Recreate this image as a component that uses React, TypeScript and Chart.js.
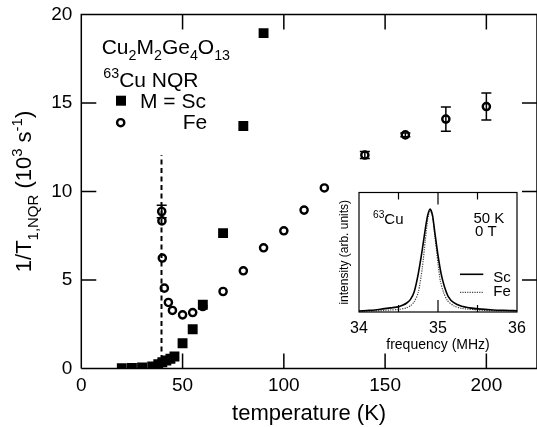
import React, { useEffect, useRef } from 'react';
import { Chart, registerables } from 'chart.js';
Chart.register(...registerables);

const FONT = '"Liberation Sans", Arial, Helvetica, sans-serif';

// ---------- main chart data ----------
const xTicks = [0, 50, 100, 150, 200];
const yTicks = [0, 5, 10, 15, 20];

const scTemp = [20, 25, 30, 35, 38, 40, 42, 44, 46, 50, 55, 60, 70, 80, 90];
const scRate = [0.02, 0.03, 0.06, 0.12, 0.25, 0.35, 0.45, 0.55, 0.68, 1.43, 2.22, 3.6, 7.65, 13.7, 18.95];

const feTemp = [39.7, 39.8, 40, 41, 43, 45, 50, 55, 60, 70, 80, 90, 100, 110, 120, 140, 160, 180, 200];
const feRate = [8.87, 8.34, 6.24, 4.54, 3.73, 3.28, 3.03, 3.16, 3.5, 4.35, 5.52, 6.82, 7.78, 8.95, 10.2, 12.06, 13.2, 14.09, 14.8];
const feErr = [0.35, 0, 0, 0, 0, 0, 0, 0, 0, 0, 0, 0, 0, 0, 0, 0.2, 0.1, 0.69, 0.76];

const tcTemp = [39.6, 39.6];
const tcRate = [0, 12.05];

// ---------- inset data ----------
const freqTicks = [34, 35, 36];
const freqMinor = [34.5, 35, 35.5];
const scFreq = [34.0, 34.1, 34.2, 34.3, 34.4, 34.5, 34.55, 34.6, 34.65, 34.7, 34.75, 34.8, 34.84, 34.87, 34.9, 34.93, 34.96, 35.0, 35.04, 35.08, 35.13, 35.2, 35.3, 35.4, 35.5, 35.7, 35.9, 36.0];
const scInt = [0.01, 0.015, 0.02, 0.03, 0.04, 0.05, 0.065, 0.085, 0.12, 0.2, 0.37, 0.6, 0.81, 0.94, 1.0, 0.94, 0.77, 0.55, 0.37, 0.25, 0.15, 0.09, 0.055, 0.04, 0.03, 0.02, 0.015, 0.012];
const feFreq = [34.0, 34.2, 34.4, 34.5, 34.6, 34.65, 34.7, 34.75, 34.8, 34.84, 34.87, 34.9, 34.93, 34.96, 35.0, 35.03, 35.07, 35.12, 35.2, 35.3, 35.5, 35.7, 36.0];
const feInt = [0.005, 0.01, 0.02, 0.025, 0.04, 0.06, 0.1, 0.19, 0.42, 0.7, 0.9, 0.99, 0.93, 0.74, 0.47, 0.3, 0.19, 0.11, 0.06, 0.035, 0.02, 0.012, 0.01];

type Seg = { t: string; k?: 'sub' | 'sup' };

function drawRich(ctx: CanvasRenderingContext2D, segs: Seg[], x: number, y: number, size: number, align: 'left' | 'center' = 'left') {
  const sm = size * 0.68;
  let w = 0;
  for (const s of segs) {
    ctx.font = `${s.k ? sm : size}px ${FONT}`;
    w += ctx.measureText(s.t).width;
  }
  let cx = align === 'center' ? x - w / 2 : x;
  ctx.textAlign = 'left';
  ctx.textBaseline = 'alphabetic';
  for (const s of segs) {
    ctx.font = `${s.k ? sm : size}px ${FONT}`;
    const dy = s.k === 'sub' ? size * 0.3 : s.k === 'sup' ? -size * 0.42 : 0;
    ctx.fillText(s.t, cx, y + dy);
    cx += ctx.measureText(s.t).width;
  }
}

const zeroPad = (s: any) => { s.paddingLeft = 0; s.paddingRight = 0; s.paddingTop = 0; s.paddingBottom = 0; };

const mainPlugin = {
  id: 'mainDecor',
  beforeDatasetsDraw(chart: any) {
    const ctx = chart.ctx as CanvasRenderingContext2D;
    const xs = chart.scales.x;
    const ys = chart.scales.y;
    ctx.save();
    ctx.strokeStyle = '#000';
    ctx.lineWidth = 1.5;
    feTemp.forEach((t, i) => {
      const e = feErr[i];
      if (!e) return;
      const px = xs.getPixelForValue(t);
      const y1 = ys.getPixelForValue(feRate[i] + e);
      const y2 = ys.getPixelForValue(feRate[i] - e);
      ctx.beginPath();
      ctx.moveTo(px, y1); ctx.lineTo(px, y2);
      ctx.moveTo(px - 5, y1); ctx.lineTo(px + 5, y1);
      ctx.moveTo(px - 5, y2); ctx.lineTo(px + 5, y2);
      ctx.stroke();
    });
    ctx.restore();
  },
  afterDraw(chart: any) {
    const ctx = chart.ctx as CanvasRenderingContext2D;
    const a = chart.chartArea;
    const xs = chart.scales.x;
    const ys = chart.scales.y;
    ctx.save();
    ctx.strokeStyle = '#000';
    ctx.lineWidth = 1.5;
    ctx.beginPath();
    ctx.moveTo(a.left, a.bottom); ctx.lineTo(a.right, a.bottom);
    ctx.moveTo(a.left, a.bottom); ctx.lineTo(a.left, a.top);
    ctx.lineTo(a.right, a.top);
    ctx.lineTo(a.right, a.bottom);
    const tl = 15;
    xTicks.slice(1).forEach(v => {
      const px = xs.getPixelForValue(v);
      ctx.moveTo(px, a.bottom); ctx.lineTo(px, a.bottom - tl);
      ctx.moveTo(px, a.top); ctx.lineTo(px, a.top + tl);
    });
    yTicks.slice(1, -1).forEach(v => {
      const py = ys.getPixelForValue(v);
      ctx.moveTo(a.left, py); ctx.lineTo(a.left + tl, py);
      ctx.moveTo(a.right, py); ctx.lineTo(a.right - tl, py);
    });
    ctx.stroke();

    ctx.fillStyle = '#000';
    // y title
    ctx.save();
    ctx.translate(31, (a.top + a.bottom) / 2);
    ctx.rotate(-Math.PI / 2);
    drawRich(ctx, [{ t: '1/T' }, { t: '1,NQR', k: 'sub' }, { t: ' (10' }, { t: '3', k: 'sup' }, { t: ' s' }, { t: '-1', k: 'sup' }, { t: ')' }], 0, 0, 22, 'center');
    ctx.restore();

    // annotations
    drawRich(ctx, [{ t: 'Cu' }, { t: '2', k: 'sub' }, { t: 'M' }, { t: '2', k: 'sub' }, { t: 'Ge' }, { t: '4', k: 'sub' }, { t: 'O' }, { t: '13', k: 'sub' }], 101.7, 54, 21);
    drawRich(ctx, [{ t: '63', k: 'sup' }, { t: 'Cu NQR' }], 103.3, 86.7, 21);
    // legend
    ctx.fillRect(116, 95.7, 10, 10);
    drawRich(ctx, [{ t: 'M = Sc' }], 140, 108.3, 21);
    ctx.beginPath();
    ctx.lineWidth = 2.4;
    ctx.arc(120.7, 122.7, 3.6, 0, Math.PI * 2);
    ctx.stroke();
    drawRich(ctx, [{ t: 'Fe' }], 182.7, 129.3, 21);
    ctx.restore();
  },
};

const insetPlugin = {
  id: 'insetDecor',
  beforeDraw(chart: any) {
    const ctx = chart.ctx as CanvasRenderingContext2D;
    const a = chart.chartArea;
    ctx.save();
    ctx.fillStyle = '#fff';
    ctx.fillRect(a.left, a.top, a.right - a.left, a.bottom - a.top);
    ctx.restore();
  },
  afterDraw(chart: any) {
    const ctx = chart.ctx as CanvasRenderingContext2D;
    const a = chart.chartArea;
    const xs = chart.scales.x;
    ctx.save();
    ctx.strokeStyle = '#000';
    ctx.lineWidth = 1.2;
    ctx.strokeRect(a.left, a.top, a.right - a.left, a.bottom - a.top);
    ctx.beginPath();
    freqMinor.forEach(v => {
      const px = xs.getPixelForValue(v);
      const len = v === 35 ? 12 : 7;
      ctx.moveTo(px, a.bottom); ctx.lineTo(px, a.bottom - len);
      ctx.moveTo(px, a.top); ctx.lineTo(px, a.top + len);
    });
    ctx.stroke();

    ctx.fillStyle = '#000';
    drawRich(ctx, [{ t: '63', k: 'sup' }, { t: 'Cu' }], 43, 39.3, 15);
    drawRich(ctx, [{ t: '50 K' }], 143.5, 38.3, 15);
    drawRich(ctx, [{ t: '0 T' }], 145, 50.7, 15);
    // legend
    ctx.lineWidth = 1.6;
    ctx.beginPath();
    ctx.moveTo(130, 89.3); ctx.lineTo(153.3, 89.3);
    ctx.stroke();
    ctx.lineWidth = 1.2;
    ctx.strokeStyle = '#444';
    ctx.setLineDash([1.2, 1.2]);
    ctx.beginPath();
    ctx.moveTo(130, 107.3); ctx.lineTo(153.3, 107.3);
    ctx.stroke();
    ctx.setLineDash([]);
    drawRich(ctx, [{ t: 'Sc' }], 163.3, 96.5, 15);
    drawRich(ctx, [{ t: 'Fe' }], 163.3, 110.5, 15);
    // y label
    ctx.save();
    ctx.translate(18, (a.top + a.bottom) / 2);
    ctx.rotate(-Math.PI / 2);
    drawRich(ctx, [{ t: 'intensity (arb. units)' }], 0, 0, 12, 'center');
    ctx.restore();
    ctx.restore();
  },
};

export default function App() {
  const mainRef = useRef<HTMLCanvasElement>(null);
  const insetRef = useRef<HTMLCanvasElement>(null);

  useEffect(() => {
    const main = new Chart(mainRef.current!, {
      type: 'scatter',
      data: {
        datasets: [
          {
            label: 'Fe',
            data: feTemp.map((t, i) => ({ x: t, y: feRate[i] })),
            pointStyle: 'circle',
            pointRadius: 3.6,
            borderWidth: 2.4,
            borderColor: '#000',
            backgroundColor: 'rgba(0,0,0,0)',
            showLine: false,
          },
          {
            label: 'Sc',
            data: scTemp.map((t, i) => ({ x: t, y: scRate[i] })),
            pointStyle: 'rect',
            pointRadius: 7,
            borderWidth: 0,
            borderColor: '#000',
            backgroundColor: '#000',
            showLine: false,
          },
          {
            label: 'Tc',
            data: tcTemp.map((t, i) => ({ x: t, y: tcRate[i] })),
            showLine: true,
            pointRadius: 0,
            borderColor: '#000',
            borderWidth: 2,
            borderDash: [5, 3.5],
          },
        ],
      },
      options: {
        responsive: false,
        animation: false,
        events: [],
        layout: { padding: { top: 14.5, right: 0, left: 0, bottom: 0 } },
        plugins: { legend: { display: false }, tooltip: { enabled: false } },
        scales: {
          x: {
            type: 'linear',
            min: 0,
            max: 225,
            afterBuildTicks: (s: any) => { s.ticks = xTicks.map(v => ({ value: v })); },
            afterFit: (s: any) => { s.height = 58.5; zeroPad(s); },
            grid: { display: false, drawTicks: false },
            border: { display: false },
            ticks: { font: { family: FONT, size: 19 }, color: '#000', padding: 6, maxRotation: 0, autoSkip: false },
            title: { display: true, text: 'temperature (K)', font: { family: FONT, size: 22 }, color: '#000', padding: { top: 0, bottom: 0 } },
          },
          y: {
            type: 'linear',
            min: 0,
            max: 20,
            afterBuildTicks: (s: any) => { s.ticks = yTicks.map(v => ({ value: v })); },
            afterFit: (s: any) => { s.width = 81.3; zeroPad(s); },
            grid: { display: false, drawTicks: false },
            border: { display: false },
            ticks: { font: { family: FONT, size: 19 }, color: '#000', padding: 9 },
          },
        },
      },
      plugins: [mainPlugin],
    } as any);

    const inset = new Chart(insetRef.current!, {
      type: 'scatter',
      data: {
        datasets: [
          {
            label: 'Sc',
            data: scFreq.map((f, i) => ({ x: f, y: scInt[i] })),
            showLine: true,
            pointRadius: 0,
            borderColor: '#000',
            borderWidth: 1.6,
            tension: 0.25,
          },
          {
            label: 'Fe',
            data: feFreq.map((f, i) => ({ x: f, y: feInt[i] })),
            showLine: true,
            pointRadius: 0,
            borderColor: '#444',
            borderWidth: 1.2,
            borderDash: [1.2, 1.2],
            tension: 0.25,
          },
        ],
      },
      options: {
        responsive: false,
        animation: false,
        events: [],
        layout: { padding: { top: 7.5, right: 13, left: 29, bottom: 0 } },
        plugins: { legend: { display: false }, tooltip: { enabled: false } },
        scales: {
          x: {
            type: 'linear',
            min: 34,
            max: 36,
            afterBuildTicks: (s: any) => { s.ticks = freqTicks.map(v => ({ value: v })); },
            afterFit: (s: any) => { s.height = 45; zeroPad(s); },
            grid: { display: false, drawTicks: false },
            border: { display: false },
            ticks: { font: { family: FONT, size: 16 }, color: '#000', padding: 7, maxRotation: 0, autoSkip: false },
            title: { display: true, text: 'frequency (MHz)', font: { family: FONT, size: 14 }, color: '#000', padding: { top: 0, bottom: 3 } },
          },
          y: { display: false, min: 0, max: 1.16 },
        },
      },
      plugins: [insetPlugin],
    } as any);

    return () => {
      main.destroy();
      inset.destroy();
    };
  }, []);

  return (
    <div style={{ position: 'fixed', left: 0, top: 0, width: 537, height: 427, overflow: 'hidden', background: '#fff' }}>
      <canvas ref={mainRef} width={544} height={427} style={{ position: 'absolute', left: 0, top: 0, width: 544, height: 427 }} />
      <canvas ref={insetRef} width={200} height={172} style={{ position: 'absolute', left: 330, top: 185, width: 200, height: 172 }} />
    </div>
  );
}
